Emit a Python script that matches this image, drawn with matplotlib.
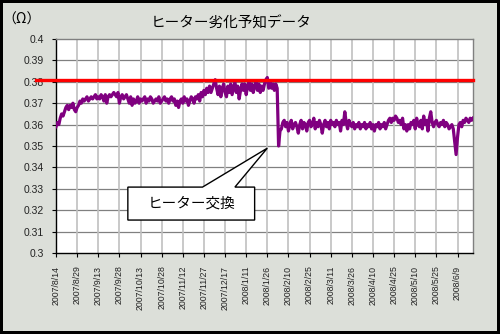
import matplotlib
matplotlib.use("Agg")
import matplotlib.pyplot as plt
from matplotlib.patches import Polygon
import matplotlib.transforms as mtransforms

# resistance readings (ohm), one per recorded day
resistance = [
    0.359, 0.361, 0.360, 0.363, 0.365, 0.364, 0.366, 0.368, 0.369, 0.367,
    0.369, 0.368, 0.370, 0.367, 0.366, 0.368, 0.369, 0.371, 0.370, 0.372,
    0.371, 0.372, 0.373, 0.371, 0.372, 0.373, 0.372, 0.373, 0.374, 0.372,
    0.373, 0.372, 0.374, 0.373, 0.371, 0.374, 0.370, 0.373, 0.374, 0.373,
    0.374, 0.375, 0.374, 0.373, 0.375, 0.370, 0.373, 0.374, 0.372, 0.373,
    0.374, 0.372, 0.370, 0.373, 0.369, 0.372, 0.370, 0.371, 0.373, 0.370,
    0.372, 0.371, 0.372, 0.373, 0.370, 0.372, 0.371, 0.373, 0.372, 0.370,
    0.371, 0.372, 0.371, 0.373, 0.370, 0.371, 0.372, 0.373, 0.371, 0.372,
    0.370, 0.372, 0.373, 0.371, 0.372, 0.369, 0.371, 0.368, 0.371, 0.372,
    0.370, 0.373, 0.371, 0.372, 0.369, 0.371, 0.373, 0.372, 0.370, 0.373,
    0.372, 0.374, 0.371, 0.375, 0.373, 0.376, 0.374, 0.377, 0.375, 0.378,
    0.375, 0.377, 0.379, 0.381, 0.377, 0.374, 0.378, 0.373, 0.377, 0.379,
    0.375, 0.373, 0.378, 0.375, 0.379, 0.374, 0.377, 0.380, 0.375, 0.378,
    0.372, 0.376, 0.379, 0.376, 0.379, 0.374, 0.378, 0.380, 0.376, 0.379,
    0.375, 0.378, 0.380, 0.376, 0.379, 0.375, 0.378, 0.376, 0.379, 0.381,
    0.382, 0.377, 0.380, 0.377, 0.379, 0.376, 0.379, 0.377, 0.350, 0.357,
    0.358, 0.361, 0.362, 0.359, 0.361, 0.357, 0.360, 0.362, 0.358, 0.360,
    0.361, 0.359, 0.356, 0.360, 0.362, 0.358, 0.361, 0.360, 0.357, 0.361,
    0.362, 0.359, 0.360, 0.363, 0.358, 0.361, 0.359, 0.362, 0.360, 0.356,
    0.360, 0.362, 0.359, 0.361, 0.358, 0.362, 0.360, 0.361, 0.359, 0.362,
    0.360, 0.361, 0.357, 0.362, 0.360, 0.366, 0.361, 0.358, 0.362, 0.360,
    0.359, 0.361, 0.358, 0.360, 0.359, 0.361, 0.358, 0.360, 0.359, 0.361,
    0.358, 0.360, 0.359, 0.361, 0.358, 0.360, 0.357, 0.360, 0.359, 0.361,
    0.358, 0.360, 0.359, 0.361, 0.358, 0.360, 0.362, 0.363, 0.361, 0.363,
    0.362, 0.364, 0.363, 0.361, 0.362, 0.360, 0.363, 0.358, 0.360, 0.357,
    0.360, 0.358, 0.361, 0.360, 0.362, 0.358, 0.363, 0.360, 0.359, 0.362,
    0.358, 0.364, 0.360, 0.362, 0.357, 0.363, 0.366, 0.361, 0.359, 0.361,
    0.362, 0.360, 0.359, 0.361, 0.360, 0.362, 0.359, 0.361, 0.360, 0.358,
    0.359, 0.360, 0.358, 0.352, 0.346, 0.354, 0.360, 0.361, 0.359, 0.362,
    0.361, 0.363, 0.362, 0.361, 0.363, 0.362, 0.363,
]

# every 15th category gets a label
date_labels = [
    "2007/8/14", "2007/8/29", "2007/9/13", "2007/9/28", "2007/10/13",
    "2007/10/28", "2007/11/12", "2007/11/27", "2007/12/17", "2008/1/11",
    "2008/1/26", "2008/2/10", "2008/2/25", "2008/3/11", "2008/3/26",
    "2008/4/10", "2008/4/25", "2008/5/10", "2008/5/25", "2008/6/9",
]
label_step = 15
limit_value = 0.381
y_ticks = [0.3, 0.31, 0.32, 0.33, 0.34, 0.35, 0.36, 0.37, 0.38, 0.39, 0.4]
y_tick_labels = ["0.3", "0.31", "0.32", "0.33", "0.34", "0.35", "0.36",
                 "0.37", "0.38", "0.39", "0.4"]

jp = ["Noto Sans CJK JP", "DejaVu Sans"]
num_font = ["Liberation Sans Narrow", "Liberation Sans", "DejaVu Sans"]

bg = "#dcdfd9"
fig = plt.figure(figsize=(5.0, 3.34), dpi=100)
fig.patch.set_facecolor(bg)
fig.patch.set_edgecolor("black")
fig.patch.set_linewidth(4)

ax = fig.add_axes([0.112, 0.2425, 0.834, 0.6407])
ax.set_facecolor("white")

x = list(range(len(resistance)))
ax.plot(x, resistance, color="#800080", lw=2.3, zorder=3)

ax.set_xlim(0, len(resistance) - 1)
ax.set_ylim(0.3, 0.4)

# red threshold line runs past the left axis like in the original
trans = mtransforms.blended_transform_factory(ax.transAxes, ax.transData)
ax.plot([-0.048, 1.0], [limit_value, limit_value], color="#ff0000", lw=2.4,
        transform=trans, clip_on=False, zorder=4)

ax.set_yticks(y_ticks)
ax.set_yticklabels(y_tick_labels, family=num_font, fontsize=7.5,
                   color="#222222")
tick_pos = [i * label_step for i in range(len(date_labels))]
ax.set_xticks(tick_pos)
ax.set_xticklabels(date_labels, rotation=90, family=num_font, fontsize=6.3,
                   va="top", color="#222222")
ax.tick_params(axis="y", length=3, pad=6)
ax.tick_params(axis="x", length=3, pad=6)

# gridlines: dark horizontals, light verticals
for v in y_ticks[1:-1]:
    ax.axhline(v, color="#808080", lw=0.9, zorder=1)
for t in tick_pos[1:]:
    ax.axvline(t, color="#c0c0c0", lw=1.2, zorder=1)

ax.spines["left"].set_color("black")
ax.spines["bottom"].set_color("black")
ax.spines["top"].set_color("#808080")
ax.spines["right"].set_color("#808080")
for s in ax.spines.values():
    s.set_linewidth(1.0)

# callout box pointing to the heater exchange
box_l, box_r = 51, 141
box_b, box_t = 0.3154, 0.3308
callout = Polygon([(box_l, box_t), (104, box_t), (150, 0.349), (127, box_t),
                   (box_r, box_t), (box_r, box_b), (box_l, box_b)],
                  closed=True, facecolor="white", edgecolor="black", lw=1.0,
                  zorder=5)
ax.add_patch(callout)
ax.text((box_l + box_r) / 2, (box_b + box_t) / 2, "ヒーター交換",
        family=jp, fontsize=10.5, ha="center", va="center", zorder=6)

fig.text(0.463, 0.931, "ヒーター劣化予知データ", family=jp, fontsize=10.5,
         ha="center", va="center")
fig.text(0.004, 0.94, "（Ω）", family=jp, fontsize=10, ha="left", va="center")

fig.savefig("out.png", dpi=100, facecolor=fig.get_facecolor(),
            edgecolor=fig.get_edgecolor())
